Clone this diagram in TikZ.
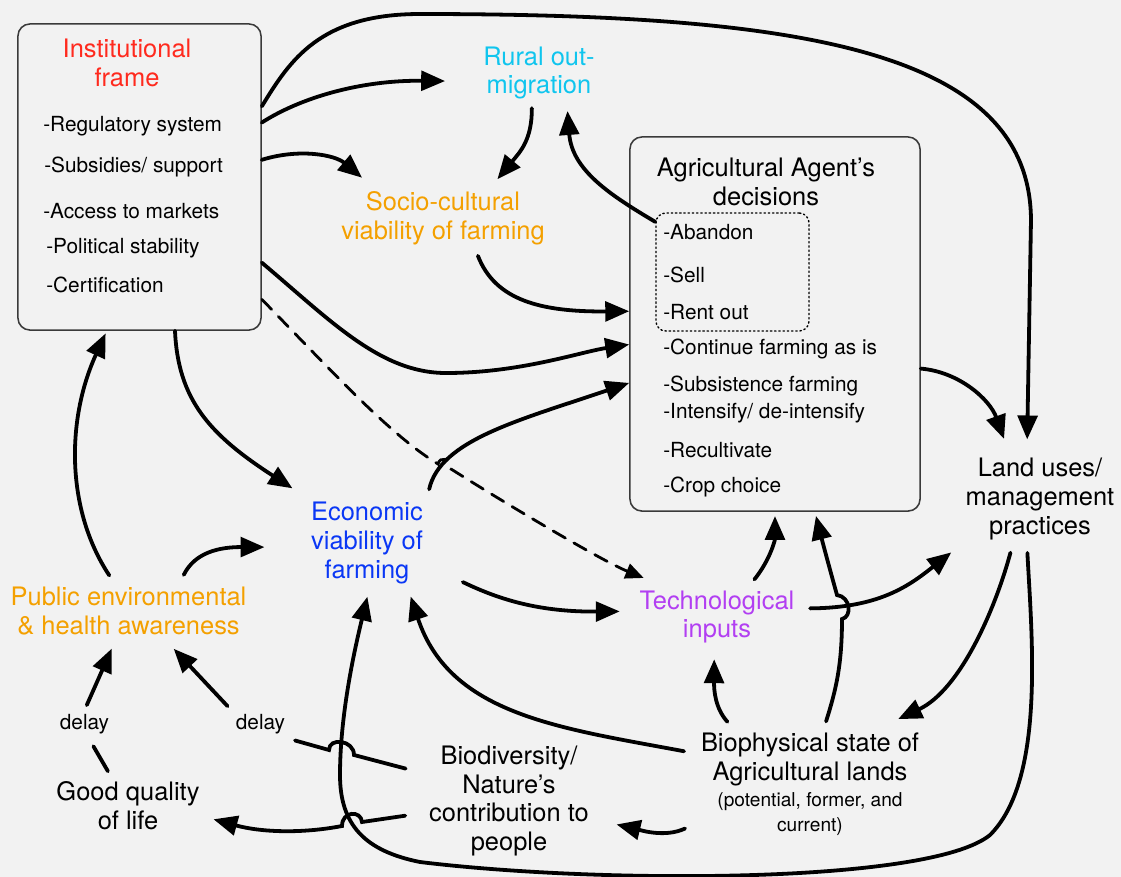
\documentclass[tikz,border=0pt]{standalone}
\usepackage{fontspec}
\setmainfont{TeX Gyre Heros}
\usetikzlibrary{arrows.meta}
\definecolor{bg}{HTML}{F2F2F2}
\definecolor{boxgray}{HTML}{3A3A3A}
\definecolor{instred}{HTML}{FF2A1E}
\definecolor{ruralcyan}{HTML}{10C5EE}
\definecolor{socioorange}{HTML}{F4A000}
\definecolor{econblue}{HTML}{0A37F5}
\definecolor{techpurple}{HTML}{B23FF2}
\newcommand{\bigsz}{\fontsize{18.1pt}{20.6pt}\selectfont}
\newcommand{\itemsz}{\fontsize{14.8pt}{17pt}\selectfont}
\newcommand{\notesz}{\fontsize{13.6pt}{16pt}\selectfont}

\begin{document}
\begin{tikzpicture}[x=0.025cm, y=-0.025cm, line cap=round]
		\tikzset{lbl/.style={align=center, inner sep=3pt, font=\bigsz}}
		\tikzset{item/.style={anchor=west, inner sep=0pt, font=\itemsz}}
		\tikzset{dly/.style={inner sep=3pt, font=\itemsz}}
		\tikzset{box/.style={draw=boxgray, line width=1.1pt, rounded corners=8.5pt, inner sep=0pt}}
		\tikzset{link/.style={line width=2.7pt}}
		\tikzset{arr/.style={line width=2.7pt, -{Triangle[length=17pt, width=14pt]}}}
		\tikzset{dasharr/.style={line width=2pt, dash pattern=on 10pt off 7pt, -{Triangle[length=13pt, width=11pt]}}}
		\useasboundingbox (0,0) rectangle (1121,877);
		\fill[bg] (0,0) rectangle (1121,877);
		% institutional frame
		\node[box, minimum width=6.075cm, minimum height=7.65cm] (inst) at (139.5,177) {};
		\node[lbl, text=instred] (insttitle) at (127,62.5) {Institutional\\frame};
		\node[item] (i1) at (43,126) {-Regulatory system};
		\node[item] (i2) at (44,167) {-Subsidies/ support};
		\node[item] (i3) at (43,211) {-Access to markets};
		\node[item] (i4) at (46,248) {-Political stability};
		\node[item] (i5) at (46,285) {-Certification};
		% agent's decisions
		\node[box, minimum width=7.25cm, minimum height=9.35cm] (agent) at (775,324) {};
		\node[lbl] (agenttitle) at (766,182) {Agricultural Agent’s\\decisions};
		\node[draw, dotted, line width=1pt, rounded corners=7pt, inner sep=0pt, minimum width=3.825cm, minimum height=2.95cm] (sel) at (732.5,272) {};
		\node[item] (d1) at (663,232) {-Abandon};
		\node[item] (d2) at (663,275) {-Sell};
		\node[item] (d3) at (663,312) {-Rent out};
		\node[item] (d4) at (663,349) {-Continue farming as is};
		\node[item] (d5) at (663,386) {-Subsistence farming};
		\node[item] (d6) at (663,413) {-Intensify/ de-intensify};
		\node[item] (d7) at (663,450) {-Recultivate};
		\node[item] (d8) at (663,487) {-Crop choice};
		% other factors
		\node[lbl, text=ruralcyan] (rural) at (539,73) {Rural out-\\migration};
		\node[lbl, text=socioorange] (socio) at (443,218) {Socio-cultural\\viability of farming};
		\node[lbl] (land) at (1040,499) {Land uses/\\management\\practices};
		\node[lbl, text=econblue] (econ) at (367,543) {Economic\\viability of\\farming};
		\node[lbl, text=techpurple] (tech) at (717,617) {Technological\\inputs};
		\node[lbl, text=socioorange] (public) at (128.5,611) {Public environmental\\\& health awareness};
		\node[dly] (dl) at (84.5,724.6) {delay};
		\node[dly] (dr) at (260.5,724.6) {delay};
		\node[lbl] (good) at (128,806) {Good quality\\of life};
		\node[lbl] (bio) at (509,801) {Biodiversity/\\Nature’s\\contribution to\\people};
		\node[lbl] (bioph) at (810,784) {Biophysical state of\\Agricultural lands\\[-2pt]\notesz (potential, former, and\\[-2.8pt]\notesz current)};
		% from institutional frame
		\draw[arr, shorten >=24pt] (inst.24) .. controls (300,98) and (360,80) .. (rural.188);
		\draw[arr, shorten >=10pt] (inst.30) .. controls (290,60) and (320,14) .. (420,14) .. controls (800,14) and (1030,50) .. (1031,220) -- (land.106);
		\draw[arr, shorten >=10pt] (inst.8) .. controls (300,148) and (335,155) .. (socio.156);
		\draw[arr] (inst.325) .. controls (330,320) and (380,373) .. (446,373) .. controls (520,373) and (580,352) .. (agent.188);
		\draw[arr, shorten >=12pt] (inst.283) .. controls (178,400) and (210,435) .. (econ.north west);
		\draw[dasharr, shorten >=15pt] (inst.315) .. controls (340,380) and (392,436) .. (438,464) .. controls (440,456) and (450,458) .. (451,469) .. controls (500,500) and (600,560) .. (tech.150);
		% migration and socio-cultural
		\draw[arr, shorten <=3pt, shorten >=7pt] (rural.257) .. controls (532,140) and (520,152) .. (socio.33);
		\draw[arr, shorten >=5pt] (sel.147) .. controls (610,195) and (572,170) .. (rural.312);
		\draw[arr, shorten <=5pt] (socio.316) .. controls (495,300) and (540,312) .. (agent.175);
		% economic viability and technology
		\draw[arr, shorten <=6pt] (econ.north east) .. controls (440,440) and (520,420) .. (agent.202);
		\draw[arr, shorten <=28pt, shorten >=11pt] (econ.-20) .. controls (500,600) and (540,612) .. (tech.176);
		\draw[arr, shorten <=6pt, shorten >=3pt] (tech.44) .. controls (770,560) and (775,540) .. (agent.south);
		\draw[arr, shorten <=8pt, shorten >=9pt] (tech.6) .. controls (880,608) and (910,585) .. (land.south west);
		% land uses
		\draw[arr, shorten >=11pt] (agent.-17) .. controls (960,372) and (990,400) .. (land.124);
		\draw[arr, shorten <=6pt, shorten >=15pt] (land.239) .. controls (995,610) and (960,690) .. (bioph.39);
		\draw[arr, shorten <=6pt, shorten >=6pt] (land.254) .. controls (1032,640) and (1045,780) .. (990,835) .. controls (930,884) and (600,884) .. (420,862) .. controls (365,851) and (340,825) .. (340,775) .. controls (340,720) and (352,660) .. (econ.273);
		% biophysical state
		\draw[arr, shorten <=5pt, shorten >=3pt] (bioph.76) .. controls (836,690) and (842,665) .. (842,619) .. controls (852,617) and (851,597) .. (837,595) .. controls (830,570) and (822,540) .. (agent.282);
		\draw[arr, shorten <=9pt, shorten >=6pt] (bioph.165) .. controls (560,728) and (450,715) .. (econ.312);
		\draw[arr, shorten <=6pt, shorten >=8pt] (bioph.144) .. controls (715,708) and (714,690) .. (tech.265);
		\draw[arr, shorten <=9pt, shorten >=17pt] (bioph.199) .. controls (665,838) and (640,830) .. (bio.-12);
		% nature and quality of life
		\draw[link, shorten <=14pt, shorten >=4pt] (bio.162) -- (354,755) .. controls (354,740) and (329,737) .. (329,750) -- (dr.south east);
		\draw[arr, shorten <=4pt, shorten >=9pt] (dr.north west) -- (public.322);
		\draw[arr, shorten <=14pt, shorten >=7pt] (bio.188) -- (362,822) .. controls (361,810) and (342,811) .. (342,826) .. controls (300,834) and (260,832) .. (good.-8);
		\draw[link, shorten <=5pt, shorten >=6pt] (good.120) -- (dl.288);
		\draw[arr, shorten <=4pt, shorten >=7pt] (dl.north) -- (public.246);
		\draw[arr, shorten <=6pt, shorten >=2pt] (public.117) .. controls (66,510) and (66,420) .. (inst.258);
		\draw[arr, shorten <=6pt, shorten >=30pt] (public.29) .. controls (195,552) and (220,547) .. (econ.184);
	\end{tikzpicture}
\end{document}
